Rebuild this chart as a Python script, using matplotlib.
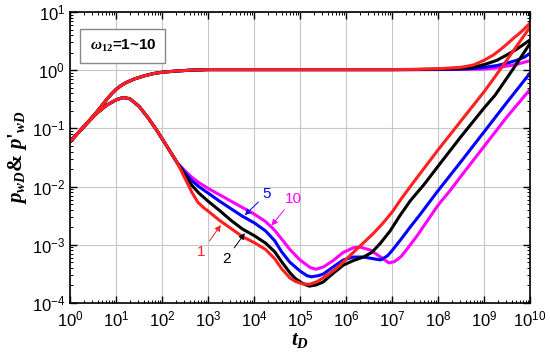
import matplotlib
matplotlib.use("Agg")
import matplotlib.pyplot as plt
import numpy as np
from matplotlib.ticker import LogLocator, NullFormatter

plt.rcParams['font.family'] = ['Liberation Sans', 'DejaVu Sans']
plt.rcParams['mathtext.fontset'] = 'custom'
plt.rcParams['mathtext.it'] = 'Liberation Serif:italic:bold'
plt.rcParams['mathtext.rm'] = 'Liberation Serif:bold'
plt.rcParams['mathtext.bf'] = 'Liberation Serif:bold'

# values, as log10(tD), log10(value)
# early part shared by all four curves
pw_lt_early = [0.0, 0.3, 0.58, 0.8, 0.9, 1.0, 1.1, 1.2, 1.4, 1.6, 1.8, 2.0, 2.3, 2.6, 3.0, 5.0, 7.0]
pw_lp_early = [-1.23, -0.97, -0.72, -0.50, -0.41, -0.33, -0.27, -0.22, -0.15, -0.10, -0.06,
               -0.035, -0.015, 0.0, 0.01, 0.01, 0.01]

dp_lt_early = [0.0, 0.3, 0.58, 0.8, 1.0, 1.15, 1.3, 1.5, 1.7, 1.9, 2.1, 2.33]
dp_lp_early = [-1.23, -0.97, -0.74, -0.60, -0.51, -0.47, -0.49, -0.62, -0.82, -1.05, -1.30, -1.59]

omega = ['1', '2', '5', '10']
colors = ['#ff2020', 'black', 'blue', '#ff00ff']

# late pressure (after the plateau)
pw_lt_late = {
    '1': [7.5, 8.0, 8.5, 8.77, 9.0, 9.2, 9.35, 9.5, 9.64, 9.75, 9.85, 10.0],
    '2': [7.5, 8.0, 8.5, 8.77, 9.02, 9.28, 9.49, 9.71, 9.89, 10.0],
    '5': [8.0, 8.5, 8.77, 9.02, 9.28, 9.49, 9.71, 9.89, 10.0],
    '10': [8.5, 9.0, 9.28, 9.49, 9.71, 9.89, 10.0],
}
pw_lp_late = {
    '1': [0.015, 0.025, 0.05, 0.09, 0.17, 0.26, 0.35, 0.45, 0.55, 0.62, 0.69, 0.81],
    '2': [0.012, 0.02, 0.03, 0.05, 0.10, 0.17, 0.26, 0.36, 0.46, 0.52],
    '5': [0.012, 0.02, 0.03, 0.05, 0.08, 0.12, 0.17, 0.23, 0.29],
    '10': [0.012, 0.02, 0.04, 0.07, 0.10, 0.14, 0.16],
}

# derivative after the common early part
dp_lt_late = {
    '1': [2.5, 2.65, 2.78, 2.9, 3.0, 3.25, 3.5, 3.75, 4.0, 4.25, 4.45, 4.6, 4.78, 4.9,
          5.05, 5.2, 5.35, 5.5, 5.65, 5.8, 6.0, 6.2, 6.4, 6.6, 6.8, 7.0, 7.2, 7.5,
          8.0, 8.5, 9.0, 9.25, 9.5, 9.75, 10.0],
    '2': [2.5, 2.65, 2.8, 3.0, 3.25, 3.5, 3.75, 4.0, 4.25, 4.45, 4.6, 4.78, 4.9, 5.05,
          5.2, 5.35, 5.5, 5.72, 5.94, 6.16, 6.38, 6.56, 6.74, 6.96, 7.17, 7.4, 7.7,
          8.0, 8.5, 9.0, 9.24, 9.64, 10.0],
    '5': [2.5, 2.65, 2.8, 3.0, 3.25, 3.5, 3.75, 4.0, 4.25, 4.45, 4.6, 4.78, 5.0, 5.15,
          5.25, 5.4, 5.51, 5.72, 5.94, 6.16, 6.38, 6.6, 6.75, 6.9, 7.0, 7.2, 7.4, 7.6,
          8.0, 8.5, 9.0, 9.5, 10.0],
    '10': [2.5, 2.65, 2.8, 3.0, 3.25, 3.5, 3.75, 4.0, 4.25, 4.45, 4.6, 4.78, 5.0, 5.22,
           5.35, 5.51, 5.72, 5.94, 6.16, 6.31, 6.53, 6.75, 6.93, 7.05, 7.2, 7.33, 7.55,
           7.8, 8.0, 8.26, 8.5, 9.0, 9.5, 10.0],
}
dp_lp_late = {
    '1': [-1.86, -2.10, -2.27, -2.36, -2.42, -2.58, -2.72, -2.86, -2.96, -3.08, -3.24,
          -3.41, -3.57, -3.63, -3.67, -3.68, -3.64, -3.57, -3.49, -3.40, -3.25, -3.10,
          -2.95, -2.80, -2.63, -2.44, -2.21, -1.89, -1.37, -0.87, -0.37, -0.10, 0.18,
          0.46, 0.74],
    '2': [-1.80, -1.98, -2.11, -2.25, -2.41, -2.58, -2.73, -2.84, -2.97, -3.12, -3.29,
          -3.48, -3.58, -3.66, -3.71, -3.69, -3.64, -3.49, -3.35, -3.27, -3.21, -3.13,
          -2.98, -2.76, -2.50, -2.24, -1.96, -1.65, -1.14, -0.65, -0.43, 0.03, 0.46],
    '5': [-1.76, -1.90, -2.00, -2.11, -2.25, -2.38, -2.51, -2.62, -2.76, -2.93, -3.12,
          -3.30, -3.45, -3.53, -3.55, -3.53, -3.50, -3.38, -3.26, -3.21, -3.21, -3.24,
          -3.26, -3.19, -3.10, -2.90, -2.69, -2.49, -2.07, -1.57, -1.06, -0.55, -0.05],
    '10': [-1.73, -1.84, -1.93, -2.03, -2.14, -2.25, -2.36, -2.47, -2.60, -2.75, -2.90,
           -3.08, -3.26, -3.39, -3.42, -3.38, -3.27, -3.13, -3.05, -3.04, -3.09, -3.21,
           -3.31, -3.29, -3.20, -3.07, -2.84, -2.55, -2.32, -2.07, -1.82, -1.31, -0.80,
           -0.33],
}

# labels with arrows: (text pos log t, log p), (arrow tip log t, log p)
label_text = {'1': (2.86, -3.12), '2': (3.40, -3.24), '5': (4.27, -2.13), '10': (4.85, -2.21)}
label_tip = {'1': (3.28, -2.66), '2': (3.80, -2.80), '5': (3.80, -2.49), '10': (4.38, -2.67)}

fig = plt.figure(figsize=(5.5, 3.53), dpi=100)
ax = fig.add_axes([0.1273, 0.1416, 0.8364, 0.8244])

for w, c in reversed(list(zip(omega, colors))):
    lt = np.array(pw_lt_early + pw_lt_late[w])
    lp = np.array(pw_lp_early + pw_lp_late[w])
    ax.plot(10 ** lt, 10 ** lp, color=c, lw=2.2, solid_capstyle='round')
    lt = np.array(dp_lt_early + dp_lt_late[w])
    lp = np.array(dp_lp_early + dp_lp_late[w])
    ax.plot(10 ** lt, 10 ** lp, color=c, lw=2.2, solid_capstyle='round')

for w, c in zip(omega, colors):
    tx, ty = label_text[w]
    px, py = label_tip[w]
    ax.annotate(w, xy=(10 ** px, 10 ** py), xytext=(10 ** tx, 10 ** ty),
                color=c, fontsize=11, ha='center', va='center',
                arrowprops=dict(arrowstyle='-|>', color=c, lw=0.7,
                                mutation_scale=9, shrinkA=1, shrinkB=0))

ax.set_xscale('log')
ax.set_yscale('log')
ax.set_xlim(1, 1e10)
ax.set_ylim(1e-4, 10)

ax.xaxis.set_major_locator(LogLocator(base=10, numticks=20))
ax.xaxis.set_minor_locator(LogLocator(base=10, subs=np.arange(2, 10), numticks=200))
ax.xaxis.set_minor_formatter(NullFormatter())
ax.yaxis.set_major_locator(LogLocator(base=10, numticks=20))
ax.yaxis.set_minor_locator(LogLocator(base=10, subs=np.arange(2, 10), numticks=200))
ax.yaxis.set_minor_formatter(NullFormatter())

ax.tick_params(which='both', direction='in', top=True, right=True, labelsize=12)
ax.tick_params(which='major', length=5, width=1)
ax.tick_params(which='minor', length=2.5, width=0.7)
ax.tick_params(axis='x', which='major', pad=5)
for s in ax.spines.values():
    s.set_linewidth(1.2)
ax.grid(True, which='major', color='#c8c8c8', lw=0.8)
ax.set_axisbelow(True)

ax.set_xlabel(r'$t_{D}$', fontsize=15, labelpad=1)
ax.set_ylabel(r"$p_{wD}$& $p$'$_{wD}$", fontsize=15, fontweight='bold',
              family='Liberation Serif', labelpad=2)

ax.text(0.115, 0.883, r'$\omega_{12}$=1~10', transform=ax.transAxes,
        fontsize=11, fontweight='bold', ha='center', va='center',
        bbox=dict(boxstyle='square,pad=0.6', facecolor='white', edgecolor='#888888', lw=1))

fig.savefig('out.png', dpi=100)
